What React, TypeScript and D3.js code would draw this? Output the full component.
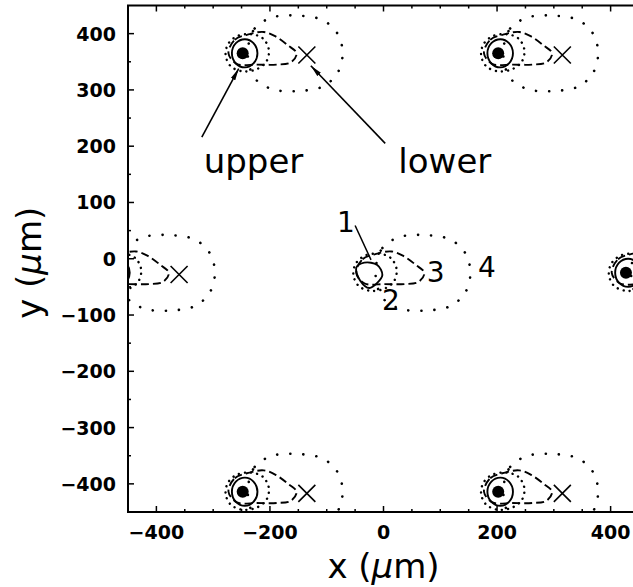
import React, { useEffect, useRef } from 'react';
import * as d3 from 'd3';

// trap sites (µm) -- the "upper" spot of each pattern
const siteX = [-248, 202, -473, -23, 427, -248, 202];
const siteY = [365, 365, -25, -25, -25, -414, -414];
const centreSite = 3; // labelled pattern, drawn without markers

// "lower" spots (x marks)
const lowerX = [-135, 315, -360, -135, 315];
const lowerY = [362, 362, -28, -417, -417];

// contour outlines, offsets from the site in µm
const contour1 = [[26, 0], [19, 18], [4, 25], [-12, 18], [-19, 0], [-12, -18], [4, -25], [19, -18]];
const contour1Centre = [[-25, 9], [-11, 18], [12, 14], [21, -4], [12, -18], [-2, -27], [-18, -14]];
const contour2 = [[46, 7], [35, 27], [14, 34], [-11, 30], [-26, 16], [-30, -4], [-21, -23], [0, -32], [25, -28], [42, -14]];
const contour3 = [[-25, 0], [-14, 24], [12, 34], [37, 38], [58, 30], [80, 14], [95, 0], [85, -16], [60, -20], [25, -20], [-10, -19]];
const contour4 = [[9, 0], [21, 44], [53, 64], [97, 67], [141, 59], [167, 35], [176, 0], [167, -35], [141, -59], [97, -67], [53, -64], [21, -44]];

// contour numbers next to the centre pattern
const numText = ['1', '2', '3', '4'];
const numX = [-66, 13, 92, 182];
const numY = [47, -91, -41, -32];

// annotation labels and arrows
const noteText = ['upper', 'lower'];
const noteX = [-229, 108];
const noteY = [152, 152];
const arrowFrom = [[-320, 216], [3, 205]];
const arrowTo = [[-255, 338], [-128, 343]];
const leaderFrom = [-50, 59];
const leaderTo = [-22, -2];

const xTicks = [-400, -200, 0, 200, 400];
const yTicks = [-400, -300, -200, -100, 0, 100, 200, 300, 400];
const minorTicks = d3.range(-400, 401, 50);

export default function App() {
  const svgRef = useRef<SVGSVGElement>(null);

  const width = 633;
  const height = 587;

  useEffect(() => {
    const svg = d3.select(svgRef.current);
    svg.selectAll('*').remove();

    const x = d3.scaleLinear().domain([-450, 450]).range([128, 639]);
    const y = d3.scaleLinear().domain([-450, 450]).range([512, 5.5]);

    const defs = svg.append('defs');
    defs.append('clipPath').attr('id', 'plotclip')
      .append('rect')
      .attr('x', x(-450)).attr('y', y(450))
      .attr('width', x(450) - x(-450)).attr('height', y(-450) - y(450));
    defs.append('marker')
      .attr('id', 'head')
      .attr('viewBox', '0 0 12 6')
      .attr('refX', 12).attr('refY', 3)
      .attr('markerWidth', 12).attr('markerHeight', 6)
      .attr('markerUnits', 'userSpaceOnUse')
      .attr('orient', 'auto')
      .append('path').attr('d', 'M0,0.5L12,3L0,5.5Z').attr('fill', '#000');

    const plot = svg.append('g').attr('clip-path', 'url(#plotclip)');

    const outline = (sx: number, sy: number, pts: number[][]) =>
      d3.line<number[]>()
        .x(d => x(sx + d[0]))
        .y(d => y(sy + d[1]))
        .curve(d3.curveCatmullRomClosed.alpha(0.5))(pts);

    siteX.forEach((sx, i) => {
      const sy = siteY[i];
      const g = plot.append('g').attr('fill', 'none').attr('stroke', '#000');
      // 4: wide dotted
      g.append('path').attr('d', outline(sx, sy, contour4))
        .attr('stroke-width', 2.6).attr('stroke-linecap', 'round')
        .attr('stroke-dasharray', '0.1 13');
      // 3: dashed
      g.append('path').attr('d', outline(sx, sy, contour3))
        .attr('stroke-width', 1.9).attr('stroke-dasharray', '8 4');
      // 2: close dotted
      g.append('path').attr('d', outline(sx, sy, contour2))
        .attr('stroke-width', 2.4).attr('stroke-linecap', 'round')
        .attr('stroke-dasharray', '0.1 6');
      // 1: solid
      g.append('path').attr('d', outline(sx, sy, i === centreSite ? contour1Centre : contour1))
        .attr('stroke-width', 1.9);
      if (i !== centreSite) {
        plot.append('circle')
          .attr('cx', x(sx)).attr('cy', y(sy)).attr('r', 6)
          .attr('fill', '#000');
      }
    });

    // lower spots
    const xs = 8.5;
    lowerX.forEach((lx, i) => {
      const cx = x(lx);
      const cy = y(lowerY[i]);
      plot.append('path')
        .attr('d', `M${cx - xs},${cy - xs}L${cx + xs},${cy + xs}M${cx - xs},${cy + xs}L${cx + xs},${cy - xs}`)
        .attr('stroke', '#000').attr('stroke-width', 1.6).attr('fill', 'none');
    });

    // frame
    svg.append('rect')
      .attr('x', x(-450)).attr('y', y(450))
      .attr('width', x(450) - x(-450)).attr('height', y(-450) - y(450))
      .attr('fill', 'none').attr('stroke', '#000').attr('stroke-width', 2);

    const ticks = svg.append('g').attr('stroke', '#000').attr('stroke-width', 1.5);
    minorTicks.forEach(v => {
      const lx = xTicks.includes(v) ? 6 : 3;
      ticks.append('line').attr('x1', x(v)).attr('x2', x(v)).attr('y1', y(-450)).attr('y2', y(-450) - lx);
      ticks.append('line').attr('x1', x(v)).attr('x2', x(v)).attr('y1', y(450)).attr('y2', y(450) + lx);
      const ly = yTicks.includes(v) ? 6 : 3;
      ticks.append('line').attr('y1', y(v)).attr('y2', y(v)).attr('x1', x(-450)).attr('x2', x(-450) + ly);
      ticks.append('line').attr('y1', y(v)).attr('y2', y(v)).attr('x1', x(450)).attr('x2', x(450) - ly);
    });

    const fmt = (v: number) => (v < 0 ? '\u2212' : '') + Math.abs(v);
    const tickFont = { family: 'DejaVu Sans', size: '19px' };

    svg.append('g').selectAll('text').data(xTicks).join('text')
      .attr('x', d => x(d)).attr('y', 539)
      .attr('text-anchor', 'middle')
      .attr('font-family', tickFont.family).attr('font-size', tickFont.size).attr('font-weight', 'bold')
      .text(d => fmt(d));

    svg.append('g').selectAll('text').data(yTicks).join('text')
      .attr('x', 116).attr('y', d => y(d) + 7)
      .attr('text-anchor', 'end')
      .attr('font-family', tickFont.family).attr('font-size', tickFont.size).attr('font-weight', 'bold')
      .text(d => fmt(d));

    // axis titles
    const xt = svg.append('text')
      .attr('x', x(0)).attr('y', 578).attr('text-anchor', 'middle')
      .attr('font-family', 'DejaVu Sans').attr('font-size', '34px');
    xt.append('tspan').text('x (');
    xt.append('tspan').attr('font-style', 'italic').text('\u03bc');
    xt.append('tspan').text('m)');

    const yt = svg.append('text')
      .attr('transform', `translate(41,${y(0) + 4}) rotate(-90)`)
      .attr('text-anchor', 'middle')
      .attr('font-family', 'DejaVu Sans').attr('font-size', '34px');
    yt.append('tspan').text('y (');
    yt.append('tspan').attr('font-style', 'italic').text('\u03bc');
    yt.append('tspan').text('m)');

    // annotations
    const notes = svg.append('g');
    noteText.forEach((t, i) => {
      notes.append('text')
        .attr('x', x(noteX[i])).attr('y', y(noteY[i]))
        .attr('text-anchor', 'middle')
        .attr('font-family', 'DejaVu Sans').attr('font-size', '34px')
        .text(t);
      notes.append('line')
        .attr('x1', x(arrowFrom[i][0])).attr('y1', y(arrowFrom[i][1]))
        .attr('x2', x(arrowTo[i][0])).attr('y2', y(arrowTo[i][1]))
        .attr('stroke', '#000').attr('stroke-width', 1.6)
        .attr('marker-end', 'url(#head)');
    });

    numText.forEach((t, i) => {
      notes.append('text')
        .attr('x', x(numX[i])).attr('y', y(numY[i]))
        .attr('text-anchor', 'middle')
        .attr('font-family', 'DejaVu Sans').attr('font-size', '28px')
        .text(t);
    });
    notes.append('line')
      .attr('x1', x(leaderFrom[0])).attr('y1', y(leaderFrom[1]))
      .attr('x2', x(leaderTo[0])).attr('y2', y(leaderTo[1]))
      .attr('stroke', '#000').attr('stroke-width', 1.5);
  }, []);

  return (
    <svg
      ref={svgRef}
      width={width}
      height={height}
      style={{ position: 'absolute', left: 0, top: 0, background: '#fff' }}
    />
  );
}
